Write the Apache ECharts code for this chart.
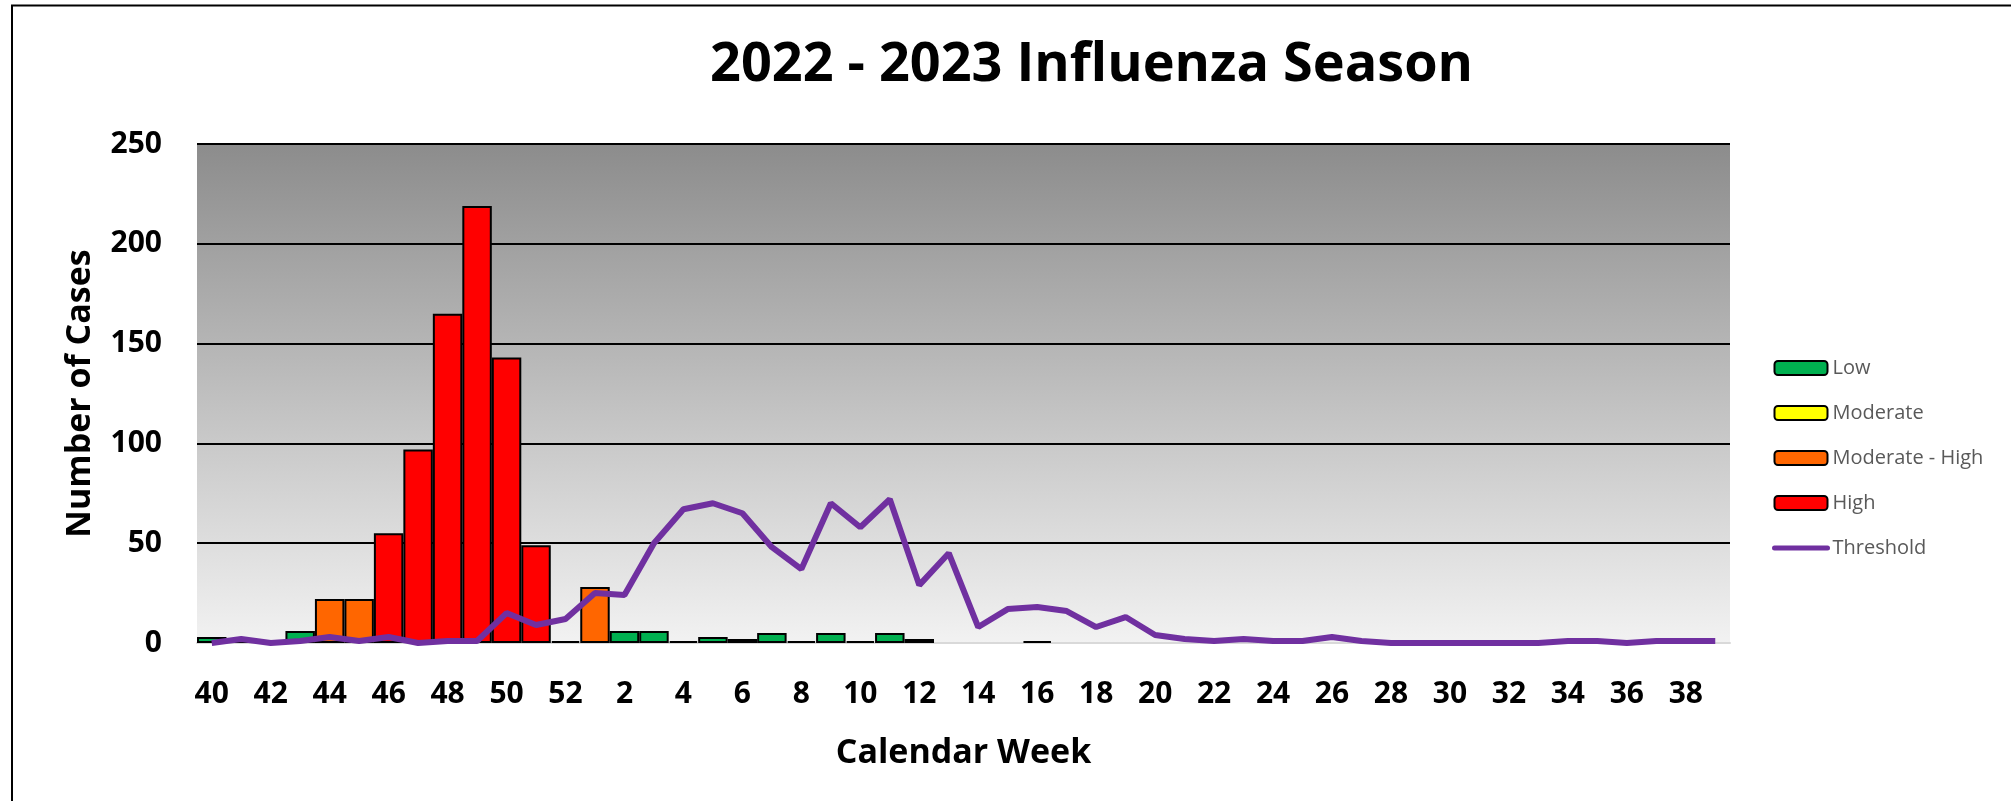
<!DOCTYPE html>
<html>
<head>
<meta charset="utf-8">
<script src="https://cdn.jsdelivr.net/npm/echarts@6/dist/echarts.min.js"></script>
<style>
html,body{margin:0;padding:0;background:#fff;}
#chart{width:2011px;height:801px;}
</style>
</head>
<body>
<div id="chart"></div>
<script>
// Calendar weeks of the 2022-2023 season
const weeks = [40,41,42,43,44,45,46,47,48,49,50,51,52,
  1,2,3,4,5,6,7,8,9,10,11,12,13,14,15,16,17,18,19,20,21,22,23,24,25,26,27,28,29,30,31,32,33,34,35,36,37,38,39];

// Activity-level bar series (null = no bar of that colour that week)
const lowCases = [3,1,1,6,null,null,null,null,null,null,null,null,1,
  null,6,6,1,3,2,5,1,5,1,5,2,null,null,null,1,null,null,null,null,null,null,null,null,null,null,null,null,null,null,null,null,null,null,null,null,null,null,null];
const moderateCases = new Array(52).fill(null);
const modHighCases = [null,null,null,null,22,22,null,null,null,null,null,null,null,
  28,null,null,null,null,null,null,null,null,null,null,null,null,null,null,null,null,null,null,null,null,null,null,null,null,null,null,null,null,null,null,null,null,null,null,null,null,null,null];
const highCases = [null,null,null,null,null,null,55,97,165,219,143,49,null,
  null,null,null,null,null,null,null,null,null,null,null,null,null,null,null,null,null,null,null,null,null,null,null,null,null,null,null,null,null,null,null,null,null,null,null,null,null,null,null];
const threshold = [0,2,0,1,3,1,3,0,1,1,15,9,12,
  25,24,50,67,70,65,48,37,70,58,72,29,45,8,17,18,16,8,13,4,2,1,2,1,1,3,1,0,0,0,0,0,0,1,1,0,1,1,1];

const yTicks = [0,50,100,150,200,250];

const FONT = '"Open Sans", "Noto Sans", sans-serif';
const chart = echarts.init(document.getElementById('chart'));

const barBase = {
  type: 'bar', stack: 'cases', barCategoryGap: '0%'
};

chart.setOption({
  animation: false,
  title: {
    text: '2022 - 2023 Influenza Season',
    left: 705, top: 34,
    textStyle: {fontFamily: FONT, fontWeight: 'bold', fontSize: 54, color: '#000'}
  },
  legend: {
    orient: 'vertical', left: 1767, top: 353,
    itemWidth: 53, itemHeight: 14, itemGap: 25,
    textStyle: {fontFamily: FONT, fontSize: 20, color: '#595959'},
    data: ['Low','Moderate','Moderate - High','High',
      {name: 'Threshold', itemStyle: {opacity: 0}, lineStyle: {color: '#7030A0', width: 5, cap: 'round'}}]
  },
  grid: {
    left: 197, right: 281, top: 144, bottom: 158,
    show: true, borderWidth: 0,
    backgroundColor: {type: 'linear', x: 0, y: 0, x2: 0, y2: 1,
      colorStops: [{offset: 0, color: '#8c8c8c'}, {offset: 1, color: '#f2f2f2'}]}
  },
  xAxis: {
    type: 'category', data: weeks,
    name: 'Calendar Week', nameLocation: 'middle', nameGap: 93,
    nameTextStyle: {fontFamily: FONT, fontWeight: 'bold', fontSize: 34, color: '#000'},
    axisLine: {lineStyle: {color: '#d9d9d9', width: 2}},
    axisTick: {show: false},
    axisLabel: {interval: 1, margin: 36, fontFamily: FONT, fontWeight: 'bold', fontSize: 30, color: '#000'}
  },
  yAxis: {
    type: 'value', min: yTicks[0], max: yTicks[yTicks.length-1], interval: 50,
    name: 'Number of Cases', nameLocation: 'middle', nameGap: 100,
    nameTextStyle: {fontFamily: FONT, fontWeight: 'bold', fontSize: 34, color: '#000'},
    axisLine: {show: false}, axisTick: {show: false},
    axisLabel: {margin: 35, fontFamily: FONT, fontWeight: 'bold', fontSize: 30, color: '#000'},
    splitLine: {lineStyle: {color: ['#d9d9d9','#000','#000','#000','#000','#000'], width: 2}}
  },
  series: [
    Object.assign({}, barBase, {name: 'Low', data: lowCases, itemStyle: {color: '#00B050', borderColor: '#000', borderWidth: 2}}),
    Object.assign({}, barBase, {name: 'Moderate', data: moderateCases, itemStyle: {color: '#FFFF00', borderColor: '#000', borderWidth: 2}}),
    Object.assign({}, barBase, {name: 'Moderate - High', data: modHighCases, itemStyle: {color: '#FF6600', borderColor: '#000', borderWidth: 2}}),
    Object.assign({}, barBase, {name: 'High', data: highCases, itemStyle: {color: '#FF0000', borderColor: '#000', borderWidth: 2}}),
    {type: 'line', name: 'Threshold', data: threshold, symbol: 'none', z: 5,
      lineStyle: {color: '#7030A0', width: 6}, itemStyle: {color: '#7030A0'}}
  ],
  graphic: [
    {type: 'polyline', shape: {points: [[12, 801], [12, 5.5], [2011, 5.5]]},
      style: {stroke: '#000', lineWidth: 2, fill: null}, silent: true}
  ]
});
</script>
</body>
</html>
